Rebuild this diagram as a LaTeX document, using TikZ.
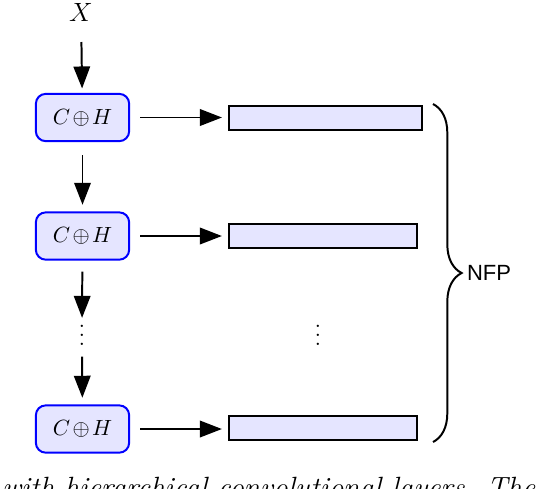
\documentclass[tikz,border=0pt]{standalone}
\usepackage{amsmath}
\usepackage{fontspec}
\setsansfont{Liberation Sans}
\usetikzlibrary{arrows.meta,decorations.pathreplacing}

\begin{document}
\begin{tikzpicture}[x=0.4545pt,y=-0.4545pt]
            \tikzset{
                layer/.style={draw=blue,line width=0.9pt,fill=blue!10,rounded corners=4.5pt,
                    minimum width=42.4pt,minimum height=21.5pt,inner sep=0pt},
                feat/.style={draw=black,line width=0.9pt,fill=blue!10,minimum height=11pt,inner sep=0pt},
                flow/.style={line width=0.9pt,-{Triangle[length=10pt,width=7.5pt]}},}
            \def\ch{$C\mkern-2mu\oplus\mkern-2mu H$}
            \useasboundingbox (0,0) rectangle (544,488);
            % left column
            \node (x) at (81,12) {\large $X$};
            \node[layer] (ch1) at (82.5,117.5) {\ch};
            \node[layer] (ch2) at (82.5,236) {\ch};
            \node (vd) at (82,329) {$\vdots$};
            \node[layer] (ch3) at (82.5,429) {\ch};
            \draw[flow,shorten <=6pt,shorten >=2pt] (x) -- (ch1);
            \draw[flow,shorten <=6pt,shorten >=3pt] (ch1) -- (ch2);
            \draw[flow,shorten <=5pt,shorten >=-6pt] (ch2) -- (vd);
            \draw[flow,shorten <=1.5pt,shorten >=3pt] (vd) -- (ch3);
            % feature maps
            \node[feat,minimum width=87.8pt] (f1) at (325.5,118) {};
            \node[feat,minimum width=85.6pt] (f2) at (323,236) {};
            \node (vd2) at (318,329) {$\vdots$};
            \node[feat,minimum width=85.6pt] (f3) at (323,428) {};
            \draw[flow,shorten <=4.5pt,shorten >=2.7pt] (ch1) -- (f1.west |- ch1);
            \draw[flow,shorten <=4.5pt,shorten >=2.7pt] (ch2) -- (f2.west |- ch2);
            \draw[flow,shorten <=4.5pt,shorten >=2.7pt] (ch3) -- (f3.west |- ch3);
            % brace
            \coordinate (bt) at (433,104);
            \coordinate (bb) at (433,442);
            \draw[line width=0.9pt,decorate,decoration={brace,amplitude=13pt}] (bt) -- (bb);
            \node[font=\sffamily] (nfp) at (489,273) {NFP};
            % caption, cut by the page
            \begin{scope}
                \clip (0,0) rectangle (544,488);
                \node[anchor=base west,inner sep=0pt,font=\fontsize{13.3}{16}\selectfont\itshape] (cap) at (2,497)
                    {with hierarchical convolutional layers. The};
            \end{scope}
\end{tikzpicture}
\end{document}
